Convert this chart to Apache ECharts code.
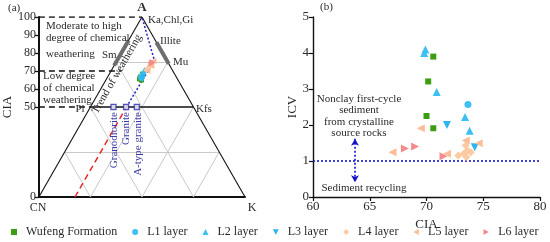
<!DOCTYPE html>
<html><head><meta charset="utf-8">
<script src="https://cdn.jsdelivr.net/npm/echarts@6/dist/echarts.min.js"></script>
<style>html,body{margin:0;padding:0;background:#fff}#c{width:550px;height:242px}</style>
</head><body><div id="c"></div>
<script>
// ===== Series names =====
const seriesNames = ['Wufeng Formation','L1 layer','L2 layer','L3 layer','L4 layer','L5 layer','L6 layer'];

// ===== Panel (b): [CIA, ICV] =====
const wufengCiaIcv = [[70.6,3.9],[70.15,3.21],[70.0,2.25],[70.6,1.91]];
const l1CiaIcv = [[73.65,2.57]];
const l2CiaIcv = [[69.9,4.1],[69.8,4.0],[70.9,2.92],[73.4,2.22],[73.8,1.84]];
const l3CiaIcv = [[71.8,2.0],[74.25,1.38]];
const l4CiaIcv = [[72.8,1.15],[73.6,1.29],[73.5,1.11],[73.9,1.24],[73.3,1.21],[73.45,1.43]];
const l5CiaIcv = [[69.5,1.91],[73.45,1.57],[74.6,1.49],[67.0,1.24],[71.8,1.2]];
const l6CiaIcv = [[68.1,1.35],[69.0,1.40],[71.5,1.13]];
const icvThreshold = 1;
const recyclingArrow = [[63.7,1.62],[63.7,0.41]];
const ciaTicksB = [60,65,70,75,80];
const icvTicks = [0,1,2,3,4,5];

// ===== Panel (a): A-CN-K compositions [A, CN, K] (%) =====
const wufengACNK = [[66.7,17.4,15.9],[65.6,18.4,16.0],[68.3,15.6,16.1],[65.0,17.7,17.3]];
const l1ACNK = [[66.1,17.2,16.7]];
const l2ACNK = [[69.4,14.6,16.0],[67.8,16.8,15.4],[70.6,13.5,15.9]];
const l3ACNK = [[65.6,17.0,17.4],[67.0,15.8,17.2]];
const l4ACNK = [[73.9,8.9,17.2],[71.7,11.0,17.3],[70.6,12.5,16.9],[72.8,9.9,17.3]];
const l5ACNK = [[72.8,9.0,18.2],[75.6,6.6,17.8],[70.0,12.3,17.7]];
const l6ACNK = [[75.0,7.4,17.6],[74.2,8.2,17.6]];
const ciaTicksA = [0,50,60,70,80,90,100];
const ternaryGridSteps = [25,50,75];
const apexA = [100,0,0], apexCN = [0,100,0], apexK = [0,0,100];
const plagioclase = [50,50,0], kFeldspar = [50,0,50];
const smectiteRange = [[73,27,0],[87,13,0]];
const illiteRange = [[74,0,26],[86,0,14]];
const graniteRocks = [[50,38.8,11.2],[50,32.7,17.3],[50,27.5,22.5]];
const trendPredicted = [[0,82.5,17.5],[50,32.5,17.5]];
const trendObserved = [[50,32.5,17.5],[76,6,18],[100,0,0]];
const weatheringLevels = [100,70,50];
const weatheringLevelEnds = [[100,0,0],[70,25,5],[50,50,0]];

// ===== helpers =====
function tern(p){const s=p[0]+p[1]+p[2];const A=p[0]/s*100,K=p[2]/s*100;return [K+A/2,A];}
function seg(a,b){return {coords:[a,b]};}

const colors = ['#3b9d12','#3ec0f5','#3bc0f0','#2cb6ef','#fdcaa2','#fbbd98','#f48c8c'];
const symbols = ['rect','circle','triangle','path://M0,0L10,0L5,9Z','diamond','path://M9,0L9,10L0,5Z','path://M0,0L9,5L0,10Z'];
const sizesB = [6,7,8,8,8,8,8];
const sizesA = [5,6,6,6,6,6,6];
const dataB = [wufengCiaIcv,l1CiaIcv,l2CiaIcv,l3CiaIcv,l4CiaIcv,l5CiaIcv,l6CiaIcv];
const dataA = [wufengACNK,l1ACNK,l2ACNK,l3ACNK,l4ACNK,l5ACNK,l6ACNK];

const SERIF = '"Liberation Serif","Times New Roman",serif';
const TXT = '#2a2a2a';

const gridSegs = [];
ternaryGridSteps.forEach(v=>{
  if(v!==50) gridSegs.push(seg(tern([v,100-v,0]),tern([v,0,100-v])));
  gridSegs.push(seg(tern([0,100-v,v]),tern([100-v,0,v])));
  gridSegs.push(seg(tern([0,v,100-v]),tern([100-v,v,0])));
});
const edgeSegs = [seg(tern(apexCN),tern(apexA)),seg(tern(apexA),tern(apexK)),seg(tern(apexK),tern(apexCN))];
const dashSegs = weatheringLevels.map((lv,i)=>seg([0,lv],tern(weatheringLevelEnds[i])));

function linesSeries(data,style,extra){
  return Object.assign({type:'lines',coordinateSystem:'cartesian2d',xAxisIndex:0,yAxisIndex:0,silent:true,z:2,
    data:data,lineStyle:Object.assign({opacity:1},style)},extra||{});
}

const series = [
  linesSeries(gridSegs,{color:'#c9c9c9',width:1},{z:1}),
  linesSeries(edgeSegs,{color:'#111',width:1.1}),
  linesSeries([seg(tern(plagioclase),tern(kFeldspar))],{color:'#111',width:1.6}),
  linesSeries(dashSegs,{color:'#111',width:1.5,type:[6,4]}),
  linesSeries([seg(tern(smectiteRange[0]),tern(smectiteRange[1]))],{color:'#6e6e6e',width:4},{z:3}),
  linesSeries([seg(tern(illiteRange[0]),tern(illiteRange[1]))],{color:'#6e6e6e',width:4},{z:3}),
  linesSeries([seg(tern(trendPredicted[0]),tern(trendPredicted[1]))],{color:'#e8282a',width:1.5,type:[6,4]},{z:3}),
  linesSeries([{coords:trendObserved.map(tern)}],{color:'#2222c0',width:1.5,type:[2,2]},{z:3,polyline:true}),
  {type:'scatter',xAxisIndex:0,yAxisIndex:0,silent:true,z:4,symbol:'rect',symbolSize:5,
   data:graniteRocks.map(tern),itemStyle:{color:'#fff',borderColor:'#2a2aa8',borderWidth:1.3}},
  {type:'line',xAxisIndex:1,yAxisIndex:1,silent:true,symbol:'none',z:2,
   data:[[ciaTicksB[0],icvThreshold],[ciaTicksB[ciaTicksB.length-1],icvThreshold]],lineStyle:{color:'#1414c8',width:1.6,type:[2,2]},
   markLine:{silent:true,symbol:['arrow','arrow'],symbolSize:[6,7],label:{show:false},
     lineStyle:{color:'#1414c8',width:1.6,type:[2,2]},
     data:[[{coord:recyclingArrow[0]},{coord:recyclingArrow[1]}]]}}
];
seriesNames.forEach((n,i)=>{
  series.push({name:n,type:'scatter',xAxisIndex:0,yAxisIndex:0,z:5,symbol:symbols[i],symbolSize:sizesA[i],
    data:dataA[i].map(tern),itemStyle:{color:colors[i],opacity:1}});
  series.push({name:n,type:'scatter',xAxisIndex:1,yAxisIndex:1,z:5,symbol:symbols[i],symbolSize:sizesB[i],
    data:dataB[i],itemStyle:{color:colors[i],opacity:1}});
});

function txt(text,x,y,o){o=o||{};return {type:'text',x:x,y:y,rotation:o.rot||0,z:100,
  style:{text:text,font:(o.bold?'bold ':'')+(o.size||11)+'px '+SERIF,fill:o.color||TXT,align:o.align||'left',verticalAlign:'middle'}};}

const graphics = [
  txt('(a)',8,8,{size:11}),
  txt('A',142,8,{size:13,bold:true,align:'center'}),
  txt('Ka,Chl,Gi',148,20,{size:11}),
  txt('Illite',160,41,{size:11}),
  txt('Mu',173,62,{size:11}),
  txt('Kfs',196,109,{size:11}),
  txt('K',252,208,{size:12,align:'center'}),
  txt('CN',38,208,{size:12,align:'center'}),
  txt('Pl',80,109,{size:11,align:'center'}),
  txt('Moderate to high',46,26,{size:11}),
  txt('degree of chemical',46,38,{size:11}),
  txt('weathering',46,54,{size:11}),
  txt('Sm',102,55,{size:11}),
  txt('Low degree',43,76,{size:11}),
  txt('of chemical',43,88,{size:11}),
  txt('weathering',43,100,{size:11}),
  txt('Trend of weathering',117,74,{size:11,align:'center',rot:Math.PI/3}),
  txt('Granodiorite',114,112,{size:11,align:'right',rot:Math.PI/2,color:'#3b3ba8'}),
  txt('Granite',126,112,{size:11,align:'right',rot:Math.PI/2,color:'#3b3ba8'}),
  txt('A-type granite',138,112,{size:11,align:'right',rot:Math.PI/2,color:'#3b3ba8'}),
  txt('(b)',320,7,{size:11}),
  txt('Nonclay first-cycle',359,99,{size:11,align:'center'}),
  txt('sediment',359,110,{size:11,align:'center'}),
  txt('from crystalline',359,122,{size:11,align:'center'}),
  txt('source rocks',359,133,{size:11,align:'center'}),
  txt('Sediment recycling',364,188,{size:11,align:'center'})
];

const chart = echarts.init(document.getElementById('c'),null,{renderer:'canvas'});
chart.setOption({
  animation:false,
  backgroundColor:'#fff',
  grid:[{left:38,top:17,width:207,height:180},{left:313,top:17,width:227,height:180}],
  xAxis:[
    {gridIndex:0,type:'value',min:0,max:100,axisLine:{show:true,lineStyle:{color:'#111',width:2}},
     axisTick:{show:false},axisLabel:{show:false},splitLine:{show:false}},
    {gridIndex:1,type:'value',min:ciaTicksB[0],max:ciaTicksB[ciaTicksB.length-1],interval:5,name:'CIA',nameLocation:'middle',nameGap:16,
     nameTextStyle:{fontFamily:SERIF,fontSize:13,color:TXT},
     axisLine:{show:true,lineStyle:{color:'#111',width:1.4}},axisTick:{show:true,length:4,lineStyle:{color:'#111',width:1.2}},
     axisLabel:{fontFamily:SERIF,fontSize:13,color:TXT,margin:3},splitLine:{show:false}}
  ],
  yAxis:[
    {gridIndex:0,type:'value',min:0,max:100,interval:10,name:'CIA',nameLocation:'middle',nameGap:23,nameRotate:90,
     nameTextStyle:{fontFamily:SERIF,fontSize:13,color:TXT},
     axisLine:{show:true,lineStyle:{color:'#111',width:2}},
     axisTick:{show:true,length:4,customValues:ciaTicksA,lineStyle:{color:'#111',width:1.3}},
     axisLabel:{customValues:ciaTicksA,fontFamily:SERIF,fontSize:12,color:TXT,margin:3},splitLine:{show:false}},
    {gridIndex:1,type:'value',min:icvTicks[0],max:icvTicks[icvTicks.length-1],interval:1,name:'ICV',nameLocation:'middle',nameGap:13,nameRotate:90,
     nameTextStyle:{fontFamily:SERIF,fontSize:13,color:TXT},
     axisLine:{show:true,lineStyle:{color:'#111',width:1.4}},axisTick:{show:true,length:4,lineStyle:{color:'#111',width:1.2}},
     axisLabel:{fontFamily:SERIF,fontSize:13,color:TXT,margin:4},splitLine:{show:false}}
  ],
  legend:{left:6,top:221,itemWidth:6,itemHeight:6,itemGap:15,
    data:seriesNames.map((n,i)=>({name:n,icon:symbols[i],itemStyle:{color:colors[i]}})),
    textStyle:{fontFamily:SERIF,fontSize:12,color:TXT,padding:[0,0,0,4]}},
  graphic:graphics,
  series:series
});
</script></body></html>
